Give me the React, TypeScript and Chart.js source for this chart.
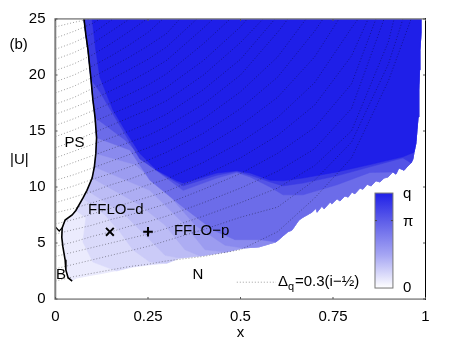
import React, { useEffect, useRef } from "react";
import { Chart, registerables } from "chart.js";

Chart.register(...registerables);

const FONT = '"Liberation Sans", Arial, sans-serif';

// Phase boundary and outer edge of the coloured domain (x, |U|)
const outlineX = [
  0.077, 0.082, 0.088, 0.091, 0.096, 0.101, 0.107, 0.111, 0.109, 0.105, 0.099, 0.085, 0.074, 0.055, 0.045, 0.026, 0.018, 0.017, 0.02, 0.026, 0.028, 0.034, 0.045,
  0.057, 0.093, 0.128, 0.165, 0.209, 0.255, 0.301, 0.336, 0.391, 0.461, 0.507, 0.55, 0.596, 0.628, 0.639, 0.658, 0.669, 0.693,
  0.704, 0.707, 0.72, 0.726, 0.742, 0.747, 0.761, 0.769, 0.782, 0.791, 0.801, 0.809, 0.823, 0.831, 0.842, 0.853, 0.866, 0.877, 0.888, 0.899, 0.912, 0.92, 0.928, 0.942, 0.953, 0.961,
  0.966, 0.969, 0.974, 0.977, 0.98, 0.982, 0.984, 0.985, 0.988, 0.988,
];
const outlineU = [
  25, 23.6, 22.2, 21.2, 19.6, 17.8, 16.2, 14.4, 13, 11.8, 10.8, 9.7, 9, 7.9, 7.5, 7.05, 6.35, 5.5, 4.65, 3.5, 2.6, 1.9, 1.6,
  1.83, 2.05, 2.25, 2.5, 2.85, 3.05, 3.2, 3.65, 3.85, 4.2, 4.55, 4.65, 5.1, 6, 6.15, 7.05, 7.3, 7.75,
  8.1, 7.75, 8.3, 8.05, 8.65, 8.5, 8.95, 8.75, 9.2, 9.1, 9.55, 9.4, 9.9, 9.8, 10.25, 10.1, 10.55, 10.45, 10.8, 10.9, 11.35, 11.15, 11.7, 11.5, 11.9, 12.15,
  12.5, 13.1, 13.9, 15.1, 16.25, 18.65, 20.45, 22.2, 23.75, 25,
];
const psEnd = 23;

// Colour band boundaries, from the phase boundary to the outer edge
const band1 = [[0.055, 7.9], [0.082, 7.25], [0.074, 5.1], [0.101, 3.3], [0.165, 2.5]];
const band2 = [[0.074, 9], [0.134, 7.5], [0.174, 6], [0.209, 4.4], [0.255, 3.3], [0.301, 3.2]];
const band3 = [[0.085, 9.7], [0.188, 7.5], [0.242, 5.7], [0.296, 3.9], [0.336, 3.65]];
const band4 = [[0.099, 10.8], [0.228, 8.4], [0.296, 6.6], [0.35, 4.4], [0.391, 3.85]];
const band5 = [[0.105, 11.8], [0.255, 9.7], [0.35, 6.6], [0.404, 4.4], [0.461, 4.2]];
const band6 = [[0.109, 13], [0.215, 12], [0.296, 9.7], [0.377, 6.6], [0.458, 4.8], [0.507, 4.55]];
const band7 = [[0.111, 14.4], [0.201, 13.3], [0.255, 10.6], [0.345, 8.2], [0.426, 6.15], [0.485, 5.3], [0.553, 5.3], [0.596, 5.1]];
const band8 = [[0.107, 16.2], [0.188, 14.2], [0.255, 11.9], [0.345, 9.7], [0.436, 10.8], [0.49, 11.3], [0.526, 10.9], [0.58, 10], [0.615, 9.3], [0.669, 9.3], [0.761, 10.2], [0.85, 11.3], [0.912, 11.35]];
const band9 = [[0.096, 19.6], [0.12, 18.5], [0.161, 16.2], [0.228, 12.5], [0.296, 11], [0.345, 10.1], [0.436, 11.05], [0.49, 11.4], [0.526, 11.05], [0.58, 10.45], [0.615, 10.1], [0.669, 10.35], [0.761, 11], [0.85, 11.8], [0.939, 12.6], [0.961, 12.15]];
const band10 = [[0.077, 25], [0.099, 25], [0.109, 22.2], [0.12, 19.8], [0.155, 16.9], [0.193, 14.8], [0.228, 13], [0.274, 11.5], [0.328, 10.55], [0.345, 10.35], [0.436, 11.25], [0.49, 11.45], [0.526, 11.25], [0.58, 10.6], [0.615, 10.55], [0.669, 10.8], [0.761, 11.35], [0.85, 12], [0.939, 12.7], [0.966, 13.05], [0.969, 13.1]];
const bandCurves = [band1, band2, band3, band4, band5, band6, band7, band8, band9, band10];
const bandColors = ["#dadafa", "#cbcbf8", "#bcbcf5", "#adadf3", "#9c9cf0", "#8a8aee", "#6c6ce9", "#5353e6", "#3a3ae4", "#1f1fe8"];
const domainColor = "#ebebfd";

// Dotted lines: |U| read at these x columns, each ending at the top of the frame
const contourGrid = [0, 0.05, 0.1, 0.15, 0.2, 0.25, 0.3, 0.4, 0.5, 0.6, 0.7, 0.8, 0.9];
const contourTops = [0.093, 0.12, 0.155, 0.2, 0.247, 0.29, 0.336, 0.382, 0.426, 0.472, 0.518, 0.561, 0.593, 0.628, 0.677, 0.723, 0.766, 0.818, 0.845, 0.866, 0.888, 0.915, 0.939, 0.961];
const contourU = [
  [24.3, 24.7],
  [23.3, 23.9, 24.6],
  [22.3, 22.9, 23.7],
  [21.4, 22, 22.8, 23.9],
  [20.4, 21, 21.8, 22.8, 23.9],
  [19.4, 20, 20.8, 21.7, 22.7, 23.8],
  [18.4, 19, 19.8, 20.7, 21.6, 22.6, 23.7],
  [17.4, 18, 18.8, 19.6, 20.5, 21.4, 22.5],
  [16.5, 17.1, 17.8, 18.6, 19.4, 20.3, 21.3, 24.2],
  [15.5, 16.1, 16.8, 17.5, 18.3, 19.1, 20.1, 22.8],
  [14.5, 15.1, 15.8, 16.5, 17.2, 18, 18.9, 21.3, 24.3],
  [13.5, 14.1, 14.8, 15.5, 16.2, 16.9, 17.7, 20, 22.9],
  [12.6, 13.2, 13.8, 14.4, 15, 15.7, 16.5, 18.7, 21.4],
  [11.6, 12.2, 12.8, 13.4, 14, 14.6, 15.4, 17.4, 20, 23.8],
  [10.6, 11.1, 11.7, 12.3, 12.9, 13.5, 14.2, 16.1, 18.5, 21.6],
  [9.6, 10.1, 10.7, 11.2, 11.8, 12.4, 13.1, 14.8, 17, 19.8, 23.9],
  [8.6, 9.1, 9.6, 10.2, 10.7, 11.3, 11.9, 13.5, 15.5, 18, 21.6],
  [7.7, 8.1, 8.6, 9.1, 9.6, 10.2, 10.7, 12.2, 14, 16.2, 19.3, 24.2],
  [6.7, 7.1, 7.6, 8.1, 8.6, 9.1, 9.6, 11, 12.6, 14.6, 17.3, 21.7],
  [5.8, 6.2, 6.6, 7.1, 7.5, 8, 8.5, 9.8, 11.2, 13, 15.3, 19.2],
  [4.7, 5.1, 5.6, 6, 6.5, 6.9, 7.4, 8.6, 9.9, 11.4, 13.4, 17],
  [3.8, 4.2, 4.6, 5, 5.4, 5.8, 6.3, 7.4, 8.6, 9.9, 11.9, 15, 23],
  [2.7, 3.1, 3.5, 3.9, 4.3, 4.7, 5.2, 6.2, 7.3, 8.2, 10.6, 14, 21],
  [1.6, 2, 2.3, 2.6, 2.9, 3.1, 3.4, 3.8, 4.4, 6, 9, 12.6, 19.5],
];

const branchX = [0, 0.01, 0.018];
const branchU = [6.43, 6.07, 6.35];
const crossPoint = [{ x: 0.147, y: 6 }];
const plusPoint = [{ x: 0.25, y: 6 }];
const legendKeyX = [0.49, 0.596];
const legendKeyU = [1.5, 1.5];

const xTicks = ["0", "0.25", "0.5", "0.75", "1"];
const annotations: [string, number, number][] = [
  ["PS", 0.024, 13.9],
  ["FFLO−d", 0.088, 8.0],
  ["FFLO−p", 0.32, 6.05],
  ["N", 0.37, 2.2],
];

const toPts = (pts: number[][]) => pts.map(([x, y]) => ({ x, y }));
const outline = outlineX.map((x, i) => ({ x, y: outlineU[i] }));
const bandIndex = (p: number[]) => outline.findIndex((q) => q.x === p[0] && q.y === p[1]);
const bandPolygon = (curve: number[][]) => {
  const a = bandIndex(curve[0]);
  const b = bandIndex(curve[curve.length - 1]);
  return [...toPts(curve), ...outline.slice(b + 1), ...outline.slice(0, a)];
};

const decorations = {
  id: "decorations",
  afterDatasetsDraw(chart: any) {
    const { ctx, chartArea: a, scales } = chart;
    const sx = scales.x;
    const sy = scales.y;
    ctx.save();
    // frame
    ctx.fillStyle = "#808080";
    ctx.fillRect(a.left - 1.2, a.top - 0.8, 2, a.bottom - a.top + 1.6);
    ctx.fillRect(a.left, a.top - 0.8, a.right - a.left, 1.4);
    ctx.fillRect(a.left, a.bottom - 0.6, a.right - a.left, 1.4);
    ctx.fillStyle = "#000";
    ctx.fillRect(a.right - 0.5, a.top - 0.8, 1, a.bottom - a.top + 1.6);
    // inward ticks
    ctx.fillStyle = "#555";
    for (const t of sx.ticks) {
      const px = sx.getPixelForValue(t.value);
      ctx.fillRect(px - 0.5, a.top, 1, 2);
      ctx.fillRect(px - 0.5, a.bottom - 2, 1, 2);
    }
    for (const t of sy.ticks) {
      const py = sy.getPixelForValue(t.value);
      ctx.fillRect(a.left, py - 0.5, 2, 1);
      ctx.fillRect(a.right - 2.5, py - 0.5, 2, 1);
    }
    // colour key
    const left = sx.getPixelForValue(0.8635);
    const right = sx.getPixelForValue(0.912);
    const top = sy.getPixelForValue(9.46);
    const bottom = sy.getPixelForValue(0.98);
    const g = ctx.createLinearGradient(0, top, 0, bottom);
    g.addColorStop(0, "#1f1fe8");
    g.addColorStop(0.3, "#5f5fe9");
    g.addColorStop(0.65, "#a5a5f3");
    g.addColorStop(1, "#ffffff");
    ctx.fillStyle = g;
    ctx.fillRect(left, top, right - left, bottom - top);
    ctx.strokeStyle = "#777";
    ctx.lineWidth = 1;
    ctx.strokeRect(left, top, right - left, bottom - top);
    const piY = sy.getPixelForValue(7.0);
    ctx.fillStyle = "#444";
    ctx.fillRect(left, piY - 0.5, 2, 1);
    ctx.fillRect(right - 2, piY - 0.5, 2, 1);
    // text
    ctx.fillStyle = "#000";
    ctx.font = `15px ${FONT}`;
    ctx.textBaseline = "middle";
    ctx.textAlign = "left";
    for (const [s, x, u] of annotations) {
      ctx.fillText(s, sx.getPixelForValue(x), sy.getPixelForValue(u));
    }
    ctx.fillText("B", 56, 275);
    ctx.fillText("(b)", 9.5, 45);
    ctx.fillText("|U|", 10, 160);
    ctx.fillText("q", 403, 194);
    ctx.fillText("π", 403, 222);
    ctx.fillText("0", 403, 288);
    ctx.fillText("Δ", 278, 282);
    ctx.font = `11px ${FONT}`;
    ctx.fillText("q", 288, 287);
    ctx.font = `15px ${FONT}`;
    ctx.fillText("=0.3(i−½)", 295, 282);
    ctx.restore();
  },
};

export default function App() {
  const ref = useRef<HTMLCanvasElement>(null);
  useEffect(() => {
    const base = { showLine: true, pointRadius: 0, borderWidth: 0, tension: 0, parsing: true };
    const dotted = "rgba(0,0,0,0.38)";
    const datasets: any[] = [
      { ...base, label: "domain", data: outline, fill: "shape", backgroundColor: domainColor, borderColor: "transparent", order: 100 },
      ...bandCurves.map((c, i) => ({
        ...base,
        label: `band${i + 1}`,
        data: bandPolygon(c),
        fill: "shape",
        backgroundColor: bandColors[i],
        borderColor: bandColors[i],
        borderWidth: 0.5,
        order: 99 - i,
      })),
      ...contourU.map((us, i) => ({
        ...base,
        label: `contour${i}`,
        data: [...us.map((u, j) => ({ x: contourGrid[j], y: u })), { x: contourTops[i], y: 25 }],
        fill: false,
        borderColor: dotted,
        borderWidth: 1,
        borderDash: [1, 2],
        order: 50,
      })),
      {
        ...base,
        label: "phase separation",
        data: outline.slice(0, psEnd),
        fill: false,
        borderColor: "#000",
        borderWidth: 1.6,
        order: 40,
      },
      {
        ...base,
        label: "branch",
        data: branchX.map((x, i) => ({ x, y: branchU[i] })),
        fill: false,
        borderColor: "#000",
        borderWidth: 1.2,
        order: 40,
      },
      {
        ...base,
        label: "key",
        data: legendKeyX.map((x, i) => ({ x, y: legendKeyU[i] })),
        fill: false,
        borderColor: dotted,
        borderWidth: 1,
        borderDash: [1, 2],
        order: 40,
      },
      { label: "cross", data: crossPoint, showLine: false, pointStyle: "crossRot", pointRadius: 5.5, pointBorderWidth: 2, pointBorderColor: "#000", order: 30 },
      { label: "plus", data: plusPoint, showLine: false, pointStyle: "cross", pointRadius: 4.8, pointBorderWidth: 2, pointBorderColor: "#000", order: 30 },
    ];
    const tickFont = { family: FONT, size: 15 };
    const chart = new Chart(ref.current!, {
      type: "scatter",
      data: { datasets },
      options: {
        animation: false,
        responsive: false,
        layout: { padding: { top: 19, right: 26.5, left: 0, bottom: 0 } },
        plugins: { legend: { display: false }, tooltip: { enabled: false } },
        scales: {
          x: {
            type: "linear",
            min: 0,
            max: 1,
            afterFit: (s: any) => { s.height = 40; },
            grid: { display: false },
            border: { display: false },
            ticks: {
              stepSize: 0.25,
              color: "#000",
              font: tickFont,
              padding: 1,
              maxRotation: 0,
              autoSkip: false,
              callback: (_: any, i: number) => xTicks[i],
            },
            title: { display: true, text: "x", color: "#000", font: tickFont, padding: { top: 0, bottom: -3 } },
          },
          y: {
            type: "linear",
            min: 0,
            max: 25,
            afterFit: (s: any) => { s.width = 55.5; },
            grid: { display: false },
            border: { display: false },
            ticks: { stepSize: 5, color: "#000", font: tickFont, padding: 2, autoSkip: false },
          },
        },
      } as any,
      plugins: [decorations],
    });
    return () => chart.destroy();
  }, []);
  return (
    <canvas
      ref={ref}
      width={452}
      height={339}
      style={{ position: "absolute", left: 0, top: 0, width: 452, height: 339, display: "block", background: "#fff" }}
    />
  );
}
